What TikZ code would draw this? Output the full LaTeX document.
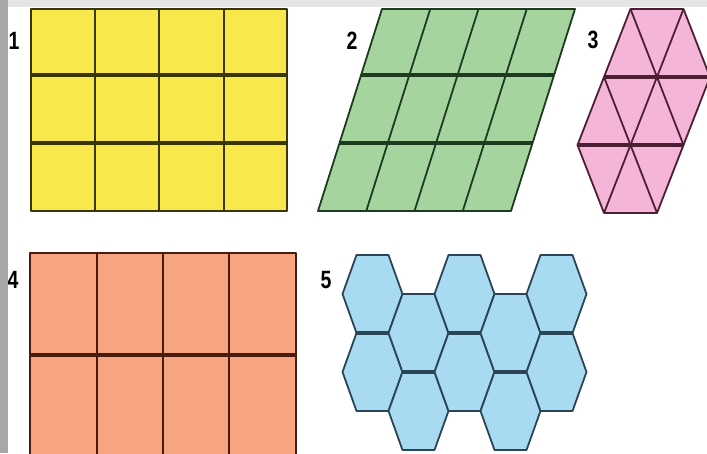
\documentclass[tikz,border=0pt]{standalone}
\usepackage{fontspec}
\setmainfont{Liberation Sans}
\usepackage{tikz}
\usetikzlibrary{positioning, calc}
\usepackage[dvipsnames, svgnames, table]{xcolor}

\definecolor{tileyellow}{HTML}{F9E84C}
\definecolor{lineyellow}{HTML}{3B3500}
\definecolor{tilegreen}{HTML}{A6D49E}
\definecolor{linegreen}{HTML}{1F3B1F}
\definecolor{tilepink}{HTML}{F4B5D8}
\definecolor{linepink}{HTML}{4D1F35}
\definecolor{tileorange}{HTML}{F7A580}
\definecolor{lineorange}{HTML}{4A1C0E}
\definecolor{tileblue}{HTML}{A8DAF2}
\definecolor{lineblue}{HTML}{2B4556}
\definecolor{bandleft}{HTML}{A7A7A7}
\definecolor{bandtop}{HTML}{E4E4E4}

\begin{document}
\begin{tikzpicture}[x=1pt, y=-1pt,
    edge/.style={line width=1.8pt, line join=round},
    seam/.style={line width=3.2pt},
    numlbl/.style={font=\fontsize{25}{25}\selectfont\bfseries, inner sep=0pt, xscale=0.78}]
    \useasboundingbox (0,0) rectangle (707,453);
    \clip (0,0) rectangle (707,453);
    \fill[white] (0,0) rectangle (707,453);

    % Squares
    \filldraw[fill=tileyellow, draw=lineyellow, edge] (31,9) rectangle (287,211);
    \draw[lineyellow, edge] (95,9) -- (95,211);
    \draw[lineyellow, edge] (159,9) -- (159,211);
    \draw[lineyellow, edge] (224,9) -- (224,211);
    \draw[lineyellow, seam] (31,75) -- (287,75);
    \draw[lineyellow, seam] (31,143) -- (287,143);
    \node[numlbl] (lab1) at (14,41) {1};

    % Parallelograms
    \filldraw[fill=tilegreen, draw=linegreen, edge] (318,211) -- (511,211) -- (575,9) -- (382,9) -- cycle;
    \draw[linegreen, edge] (366.25,211) -- (430.25,9);
    \draw[linegreen, edge] (414.5,211) -- (478.5,9);
    \draw[linegreen, edge] (462.75,211) -- (526.75,9);
    \draw[linegreen, seam] (361.1,75) -- (554.1,75);
    \draw[linegreen, seam] (339.5,143) -- (532.5,143);
    \node[numlbl] (lab2) at (352,41) {2};

    % Triangles
    \filldraw[fill=tilepink, draw=linepink, edge] (630.5,9) -- (683.5,9) -- (710,77) -- (657,213) -- (604,213) -- (577.5,145) -- cycle;
    \draw[linepink, seam] (604,77) -- (710,77);
    \draw[linepink, seam] (577.5,145) -- (683.5,145);
    \draw[linepink, edge] (604,213) -- (683.5,9);
    \draw[linepink, edge] (630.5,9) -- (683.5,145);
    \draw[linepink, edge] (604,77) -- (657,213);
    \node[numlbl] (lab3) at (593,40) {3};

    % Rectangles
    \filldraw[fill=tileorange, draw=lineorange, edge] (30,253) rectangle (296,457);
    \draw[lineorange, edge] (97,253) -- (97,457);
    \draw[lineorange, edge] (163,253) -- (163,457);
    \draw[lineorange, edge] (229,253) -- (229,457);
    \draw[lineorange, seam] (30,355) -- (296,355);
    \node[numlbl] (lab4) at (13,280) {4};

    % Hexagons
    \foreach \x/\y in {372.5/294, 372.5/372, 418.5/333, 418.5/411, 464.5/294,
                       464.5/372, 510.5/333, 510.5/411, 556.5/294, 556.5/372}
        \filldraw[fill=tileblue, draw=lineblue, edge] (\x,\y) ++(-30,0) -- ++(14,-39) -- ++(32,0)
            -- ++(14,39) -- ++(-14,39) -- ++(-32,0) -- cycle;
    \foreach \x/\y in {372.5/333, 464.5/333, 556.5/333, 418.5/372, 510.5/372}
        \draw[lineblue, seam] (\x,\y) ++(-16,0) -- ++(32,0);
    \node[numlbl] (lab5) at (326,280) {5};

    % Frame bands
    \fill[bandtop] (0,0) rectangle (707,7);
    \fill[bandleft] (0,0) rectangle (8,453);
\end{tikzpicture}
\end{document}
